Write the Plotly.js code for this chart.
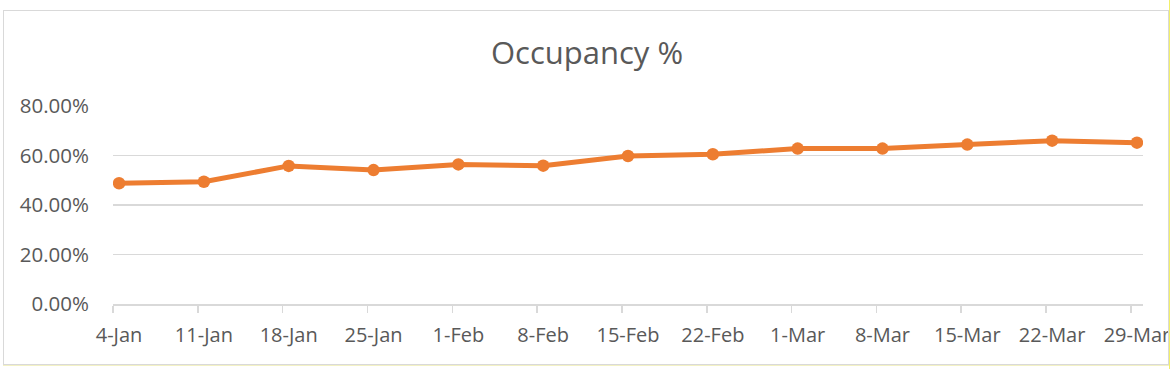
<!DOCTYPE html>
<html>
<head>
<meta charset="utf-8">
<script src="https://cdn.plot.ly/plotly-3.0.1.min.js"></script>
<style>
  html, body { margin: 0; padding: 0; background: #ffffff; }
  #wrap { position: relative; width: 1174px; height: 369px; overflow: hidden; }
  #chart { width: 1174px; height: 369px; }
  #frame { position: absolute; left: 3px; top: 10px; width: 1164px; height: 353px;
           border: 1px solid #d9d9d9; pointer-events: none; }
  #rightcut { position: absolute; left: 1169px; top: 0; width: 5px; height: 369px;
              background: #ffffff; border-left: 1px solid #f2ef6a; pointer-events: none; }
  #bottomline { position: absolute; left: 3px; top: 365px; width: 1166px; height: 1px;
                background: #f3f1c4; pointer-events: none; }
</style>
</head>
<body>
<div id="wrap">
  <div id="chart"></div>
  <div id="frame"></div>
  <div id="rightcut"></div>
  <div id="bottomline"></div>
</div>
<script>
// Week-starting dates (2021) and their labels
const dates = ['2021-01-04','2021-01-11','2021-01-18','2021-01-25','2021-02-01','2021-02-08',
               '2021-02-15','2021-02-22','2021-03-01','2021-03-08','2021-03-15','2021-03-22','2021-03-29'];
const tickLabels = ['4-Jan','11-Jan','18-Jan','25-Jan','1-Feb','8-Feb','15-Feb','22-Feb',
                    '1-Mar','8-Mar','15-Mar','22-Mar','29-Mar'];
// Occupancy (%)
const occupancy = [48.8, 49.4, 55.8, 54.1, 56.4, 55.9, 59.8, 60.5, 62.8, 62.8, 64.4, 66.0, 65.2];
const yTicks = [0, 20, 40, 60, 80];

const DAY = 86400000;
const labelPos = dates.map(d => d + ' 12:00');

const trace = {
  x: dates,
  y: occupancy,
  xperiod: DAY,
  xperiodalignment: 'middle',
  type: 'scatter',
  mode: 'lines+markers',
  line: { color: '#ED7D31', width: 5 },
  marker: { color: '#ED7D31', size: 12.5 },
  hoverinfo: 'skip'
};

const layout = {
  width: 1174,
  height: 369,
  margin: { l: 113, r: 31, t: 106, b: 65 },
  paper_bgcolor: '#ffffff',
  plot_bgcolor: '#ffffff',
  showlegend: false,
  font: { family: 'Open Sans, sans-serif', color: '#595959' },
  title: {
    text: 'Occupancy %',
    font: { family: 'Open Sans, sans-serif', size: 31, color: '#595959' },
    x: 0.5, xanchor: 'center',
    y: 1 - 53 / 369, yref: 'container', yanchor: 'middle'
  },
  xaxis: {
    type: 'date',
    range: ['2021-01-04', '2021-03-30'],
    tickmode: 'array',
    tickvals: labelPos,
    ticktext: tickLabels,
    ticks: '',
    ticklabelstandoff: 12,
    tickfont: { size: 20, color: '#595959' },
    showgrid: false,
    zeroline: false,
    showline: true,
    linecolor: '#d9d9d9',
    linewidth: 1.5,
    minor: {
      tickmode: 'array',
      tickvals: dates,
      ticks: 'outside',
      ticklen: 7,
      tickcolor: '#d9d9d9',
      tickwidth: 1.5,
      showgrid: false
    },
    fixedrange: true
  },
  yaxis: {
    range: [0, 80],
    tickmode: 'array',
    tickvals: yTicks,
    ticktext: yTicks.map(v => v.toFixed(2) + '%'),
    ticks: '',
    ticklabelstandoff: 23,
    tickfont: { size: 20.5, color: '#595959' },
    showgrid: true,
    gridcolor: '#d9d9d9',
    gridwidth: 1.5,
    zeroline: false,
    showline: false,
    fixedrange: true
  }
};

Plotly.newPlot('chart', [trace], layout, { displayModeBar: false, staticPlot: true });
</script>
</body>
</html>
